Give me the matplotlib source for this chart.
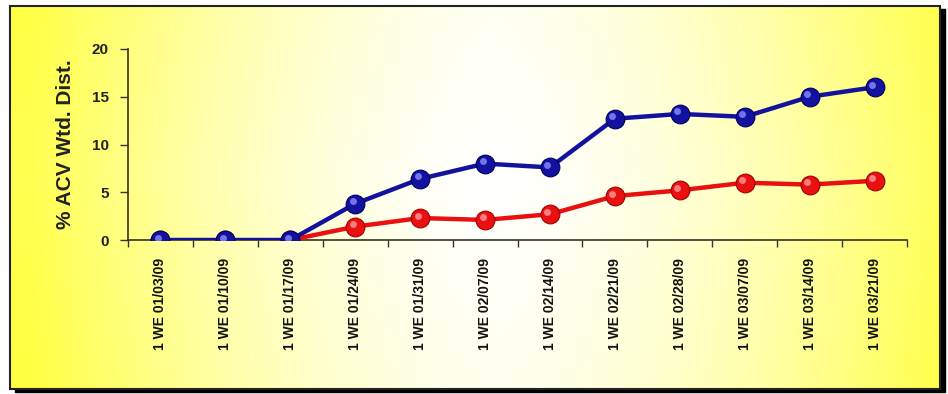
import matplotlib.pyplot as plt
import numpy as np
from matplotlib.patches import Rectangle
from matplotlib.transforms import offset_copy

plt.rcParams['font.family'] = ['Liberation Sans', 'DejaVu Sans']

weeks = ['1 WE 01/03/09', '1 WE 01/10/09', '1 WE 01/17/09', '1 WE 01/24/09',
         '1 WE 01/31/09', '1 WE 02/07/09', '1 WE 02/14/09', '1 WE 02/21/09',
         '1 WE 02/28/09', '1 WE 03/07/09', '1 WE 03/14/09', '1 WE 03/21/09']
blue_vals = [0, 0, 0, 3.8, 6.4, 8.0, 7.6, 12.7, 13.2, 12.9, 15.0, 16.0]
red_vals = [0, 0, 0, 1.4, 2.3, 2.1, 2.7, 4.6, 5.2, 6.0, 5.8, 6.2]
y_ticks = [0, 5, 10, 15, 20]

W, H = 948, 394
fig = plt.figure(figsize=(W / 100, H / 100), dpi=100)
fig.patch.set_facecolor('white')

# background panel: drop shadow, gradient, border
bg = fig.add_axes([0, 0, 1, 1], zorder=0)
bg.set_xlim(0, W)
bg.set_ylim(H, 0)
bg.axis('off')
x0, y0, x1, y1 = 10, 6, 940, 389
bg.add_patch(Rectangle((x0 + 5, y0 + 3), x1 - x0, y1 - y0, color='black', zorder=1))
gx = np.linspace(0, 1, 300)
gy = np.linspace(0, 1, 120)
GX, GY = np.meshgrid(gx, gy)
t = np.clip(np.abs(GX - 0.52) * 2.0, 0, 1) ** 1.6 * 0.85 + 0.15 * np.abs(GY - 0.45)
t = np.clip(t, 0, 1)
white = np.array([1.0, 1.0, 1.0])
yellow = np.array([1.0, 1.0, 0.2])
img = white[None, None, :] * (1 - t[..., None]) + yellow[None, None, :] * t[..., None]
bg.imshow(img, extent=(x0, x1, y1, y0), aspect='auto', zorder=2, interpolation='bilinear')
bg.add_patch(Rectangle((x0, y0), x1 - x0, y1 - y0, fill=False, ec='#222222', lw=1.5, zorder=3))

# chart
ax = fig.add_axes([128 / W, 1 - 240 / H, (907 - 128) / W, (240 - 49) / H], zorder=1)
ax.patch.set_alpha(0)
x = np.arange(len(weeks))

def sphere_line(vals, color, edge, light, zo, start=0):
    ax.plot(x[start:], vals[start:], color=color, lw=3.2, zorder=zo, solid_capstyle='round')
    ax.plot(x, vals, 'o', ms=13.5, mfc=color, mec=edge, mew=0.8, zorder=zo + 0.1)
    hl = offset_copy(ax.transData, fig=fig, x=-2.5, y=2.5, units='dots')
    ax.plot(x, vals, 'o', ms=5, mfc=light, mec='none', alpha=0.8, transform=hl, zorder=zo + 0.2)

sphere_line(red_vals, '#e81010', '#a00000', '#ff9a9a', 3, start=2)
sphere_line(blue_vals, '#12129e', '#000060', '#8c8cff', 4)

ax.set_xlim(-0.5, len(weeks) - 0.5)
ax.set_ylim(0, 20)
ax.set_yticks(y_ticks)
ax.set_yticklabels([str(v) for v in y_ticks], fontsize=11, fontweight='bold', color='#222222')
ax.set_xticks(x)
ax.set_xticklabels(weeks, rotation=90, fontsize=10, fontweight='bold', color='#111111')
ax.set_xticks(np.arange(-0.5, len(weeks)), minor=True)
ax.tick_params(axis='x', which='major', length=0, pad=13)
ax.tick_params(axis='x', which='minor', length=5, width=1, color='#333333', direction='out')
ax.tick_params(axis='y', length=6, width=1, color='#333333', pad=8)
for s in ['top', 'right']:
    ax.spines[s].set_visible(False)
for s in ['left', 'bottom']:
    ax.spines[s].set_color('#333322')
    ax.spines[s].set_linewidth(1.2)
ax.set_ylabel('% ACV Wtd. Dist.', fontsize=15, fontweight='bold', color='#222222', labelpad=12)

fig.savefig('out.png', dpi=100)
